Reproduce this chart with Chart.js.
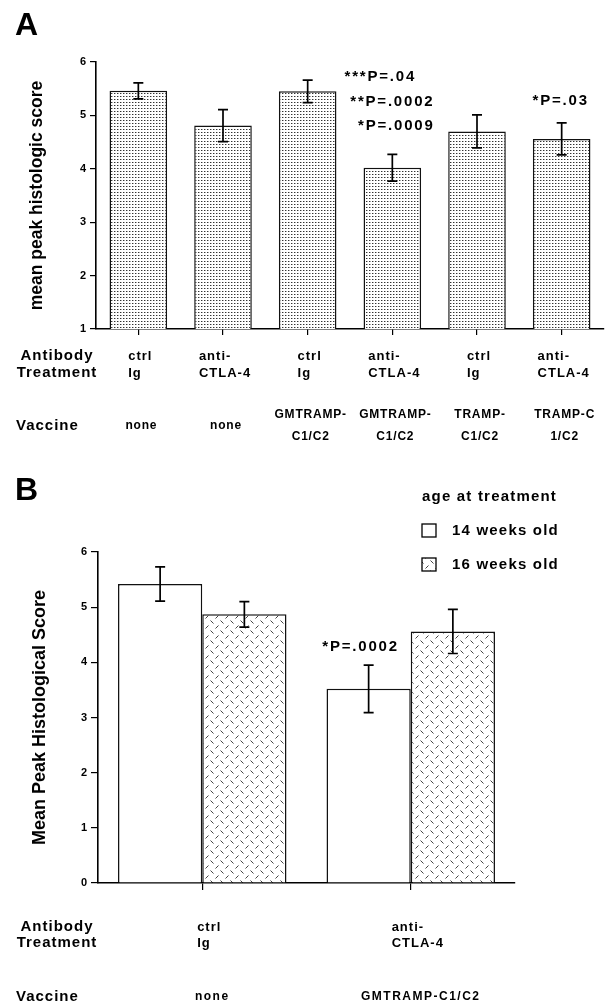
<!DOCTYPE html>
<html>
<head>
<meta charset="utf-8">
<script src="https://cdn.jsdelivr.net/npm/chart.js@4.4.1/dist/chart.umd.min.js"></script>
<style>
  html, body { margin: 0; padding: 0; background: #fff; }
  #wrapA { position: absolute; left: 0; top: 0; width: 610px; height: 460px; }
  #wrapB { position: absolute; left: 0; top: 460px; width: 610px; height: 543px; }
</style>
</head>
<body>
<div id="wrapA"><canvas id="chartA"></canvas></div>
<div id="wrapB"><canvas id="chartB"></canvas></div>
<script>
//data panel A
const antibodyA = [['ctrl', 'Ig'], ['anti-', 'CTLA-4'], ['ctrl', 'Ig'], ['anti-', 'CTLA-4'], ['ctrl', 'Ig'], ['anti-', 'CTLA-4']];
const vaccineA = [['none'], ['none'], ['GMTRAMP-', 'C1/C2'], ['GMTRAMP-', 'C1/C2'], ['TRAMP-', 'C1/C2'], ['TRAMP-C', '1/C2']];
const scoreA = [5.46, 4.81, 5.45, 4.02, 4.70, 4.56];
const errA = [0.15, 0.30, 0.21, 0.25, 0.31, 0.30];
const ticksA = [1, 2, 3, 4, 5, 6];
const notesA = [
  { text: '***P=.04', cat: 3, v: 5.72, dx: -12 },
  { text: '**P=.0002', cat: 3, v: 5.25, dx: 0 },
  { text: '*P=.0009', cat: 3, v: 4.80, dx: 4 },
  { text: '*P=.03', cat: 5, v: 5.27, dx: -1 }
];

//data panel B
const antibodyB = [['ctrl', 'Ig'], ['anti-', 'CTLA-4']];
const vaccineB = [['none'], ['GMTRAMP-C1/C2']];
const seriesB = ['14 weeks old', '16 weeks old'];
const week14 = [5.42, 3.52];
const err14 = [0.31, 0.43];
const week16 = [4.87, 4.56];
const err16 = [0.23, 0.40];
const ticksB = [0, 1, 2, 3, 4, 5, 6];
const notesB = [
  { text: '*P=.0002', ds: 0, cat: 1, v: 4.28, dx: -8 }
];

const FONT = '"Liberation Sans", Arial, Helvetica, sans-serif';
Chart.defaults.font.family = FONT;
Chart.defaults.color = '#000';

// stipple fill of panel A
function dotPattern() {
  const c = document.createElement('canvas');
  c.width = 3; c.height = 3;
  const g = c.getContext('2d');
  g.fillStyle = '#fff'; g.fillRect(0, 0, 3, 3);
  g.fillStyle = '#333'; g.fillRect(0, 0, 1, 1);
  g.fillStyle = '#aaa'; g.fillRect(1, 0, 1, 1);
  return g.createPattern(c, 'repeat');
}

// dashed hatch of panel B
function hatchPattern() {
  const c = document.createElement('canvas');
  c.width = 10; c.height = 10;
  const g = c.getContext('2d');
  g.fillStyle = '#fff'; g.fillRect(0, 0, 10, 10);
  g.strokeStyle = '#444'; g.lineWidth = 1;
  g.beginPath();
  g.moveTo(0.5, 0.5); g.lineTo(3.5, 3.5);
  g.moveTo(5.5, 8.5); g.lineTo(8.5, 5.5);
  g.stroke();
  return g.createPattern(c, 'repeat');
}

function setFont(ctx, size, ls) {
  ctx.font = 'bold ' + size + 'px ' + FONT;
  ctx.letterSpacing = ls + 'px';
}

// error bars, drawn from the dataset errors
const errorBars = {
  id: 'errorBars',
  afterDatasetsDraw(chart) {
    const ctx = chart.ctx, y = chart.scales.y;
    chart.data.datasets.forEach((ds, di) => {
      chart.getDatasetMeta(di).data.forEach((bar, i) => {
        const top = y.getPixelForValue(ds.data[i] + ds.errors[i]);
        const bot = y.getPixelForValue(ds.data[i] - ds.errors[i]);
        ctx.save();
        ctx.strokeStyle = '#000'; ctx.lineWidth = 1.7;
        ctx.beginPath();
        ctx.moveTo(bar.x, top); ctx.lineTo(bar.x, bot);
        ctx.moveTo(bar.x - 5, top); ctx.lineTo(bar.x + 5, top);
        ctx.moveTo(bar.x - 5, bot); ctx.lineTo(bar.x + 5, bot);
        ctx.stroke();
        ctx.restore();
      });
    });
  }
};

// letter, row labels under the axis, p-values, legend
const extras = {
  id: 'extras',
  afterDraw(chart, args, o) {
    const ctx = chart.ctx, xs = chart.scales.x, ys = chart.scales.y;
    const base = chart.chartArea.bottom;
    ctx.save();
    ctx.fillStyle = '#000';

    setFont(ctx, 32, 0);
    ctx.textAlign = 'left'; ctx.textBaseline = 'alphabetic';
    ctx.fillText(o.letter, 15, o.letterY);

    ctx.textBaseline = 'middle';
    setFont(ctx, 15, 1);
    ctx.textAlign = 'center';
    ctx.fillText('Antibody', 57, base + o.abDy[0]);
    ctx.fillText('Treatment', 57, base + o.abDy[1]);
    ctx.textAlign = 'left';
    ctx.fillText('Vaccine', 16, base + o.vacDy);

    o.antibody.forEach((lines, i) => {
      setFont(ctx, 13, 1);
      const cx = xs.getPixelForValue(i) + o.abShift;
      const w = Math.max(...lines.map(t => ctx.measureText(t).width));
      ctx.textAlign = 'left';
      lines.forEach((t, k) => ctx.fillText(t, cx - w / 2, base + o.abDy[k]));
    });

    o.vaccine.forEach((lines, i) => {
      setFont(ctx, 12, o.vacLs);
      ctx.textAlign = 'center';
      const cx = xs.getPixelForValue(i) + o.vacShift;
      if (lines.length === 1) {
        ctx.fillText(lines[0], cx, base + o.vacDy);
      } else {
        ctx.fillText(lines[0], cx, base + o.vacDy - 11);
        ctx.fillText(lines[1], cx, base + o.vacDy + 11);
      }
    });

    setFont(ctx, 15, 1.8);
    ctx.textAlign = 'center';
    o.notes.forEach(n => {
      const bar = chart.getDatasetMeta(n.ds || 0).data[n.cat];
      ctx.fillText(n.text, bar.x + n.dx, ys.getPixelForValue(n.v));
    });

    if (o.legend) {
      setFont(ctx, 15, 1.2);
      ctx.textAlign = 'left';
      ctx.fillText('age at treatment', 422, 37);
      chart.data.datasets.forEach((ds, i) => {
        const by = 64 + i * 34;
        ctx.fillStyle = ds.backgroundColor;
        ctx.fillRect(422, by, 14, 13);
        ctx.strokeStyle = '#000'; ctx.lineWidth = 1.3;
        ctx.strokeRect(422, by, 14, 13);
        ctx.fillStyle = '#000';
        ctx.fillText(ds.label, 452, by + 6.5);
      });
    }
    ctx.restore();
  }
};

function yScale(min, max, tickLen, title, titleSize, titlePad, width) {
  return {
    min: min, max: max,
    afterBuildTicks: s => { s.ticks = (min === 1 ? ticksA : ticksB).map(v => ({ value: v })); },
    afterFit: s => { s.width = width; },
    border: { color: '#000', width: 1.6 },
    grid: { drawOnChartArea: false, tickLength: tickLen, color: '#000', lineWidth: 1.2 },
    ticks: { font: { size: 11, weight: 'bold' }, padding: 4, color: '#000' },
    title: { display: true, text: title, font: { size: titleSize, weight: 'bold' }, padding: { top: titlePad, bottom: 0 }, color: '#000' }
  };
}

function xScale(height, tickLen) {
  return {
    afterFit: s => { s.height = height; },
    border: { color: '#000', width: 1.6 },
    grid: { drawOnChartArea: false, offset: false, tickLength: tickLen, color: '#000', lineWidth: 1.2 },
    ticks: { display: false }
  };
}

// Panel A
new Chart(document.getElementById('chartA'), {
  type: 'bar',
  data: {
    labels: antibodyA.map((a, i) => a.join(' ') + ' / ' + vaccineA[i].join('')),
    datasets: [{
      label: 'mean peak histologic score',
      data: scoreA,
      errors: errA,
      backgroundColor: dotPattern(),
      borderColor: '#111',
      borderWidth: 1.5,
      barPercentage: 0.68,
      categoryPercentage: 1
    }]
  },
  options: {
    responsive: true, maintainAspectRatio: false, animation: false, devicePixelRatio: 1,
    layout: { padding: { top: 62, right: 6, bottom: 0, left: 0 } },
    plugins: {
      legend: { display: false }, tooltip: { enabled: false },
      extras: {
        letter: 'A', letterY: 35, antibody: antibodyA, vaccine: vaccineA, notes: notesA,
        abDy: [27, 44], vacDy: 97, abShift: 2, vacShift: 3, vacLs: 0.8, legend: false
      }
    },
    scales: {
      x: xScale(131, 6),
      y: yScale(1, 6, 6, 'mean peak histologic score', 17.5, 26.5, 96)
    }
  },
  plugins: [errorBars, extras]
});

// Panel B
const hatch = hatchPattern();
new Chart(document.getElementById('chartB'), {
  type: 'bar',
  data: {
    labels: antibodyB.map((a, i) => a.join(' ') + ' / ' + vaccineB[i].join('')),
    datasets: [{
      label: seriesB[0], data: week14, errors: err14,
      backgroundColor: '#fff', borderColor: '#111', borderWidth: 1.5,
      barPercentage: 1, categoryPercentage: 0.808
    }, {
      label: seriesB[1], data: week16, errors: err16,
      backgroundColor: hatch, borderColor: '#111', borderWidth: 1.5,
      barPercentage: 1, categoryPercentage: 0.808
    }]
  },
  options: {
    responsive: true, maintainAspectRatio: false, animation: false, devicePixelRatio: 1,
    layout: { padding: { top: 92, right: 95, bottom: 0, left: 0 } },
    plugins: {
      legend: { display: false }, tooltip: { enabled: false },
      extras: {
        letter: 'B', letterY: 40, antibody: antibodyB, vaccine: vaccineB, notes: notesB,
        abDy: [44, 60], vacDy: 114, abShift: 7, vacShift: 10, vacLs: 1.5, legend: true
      }
    },
    scales: {
      x: xScale(120, 7),
      y: yScale(0, 6, 7, 'Mean Peak Histological Score', 18, 29, 98)
    }
  },
  plugins: [errorBars, extras]
});
</script>
</body>
</html>
